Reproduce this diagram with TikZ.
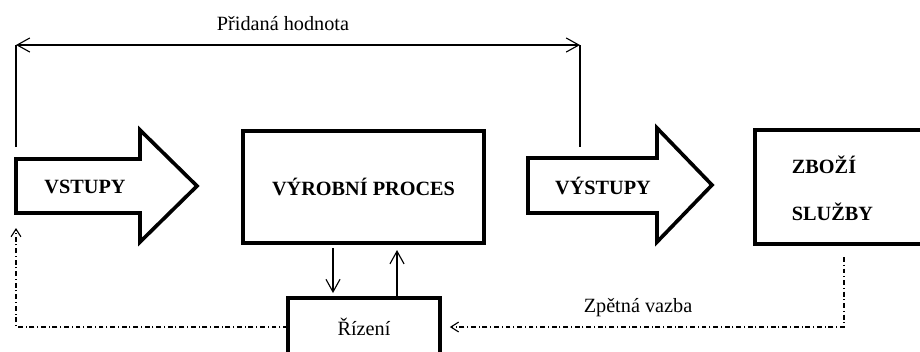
\documentclass[tikz,border=0pt]{standalone}
\usepackage{fontspec}
\setmainfont{Liberation Serif}
\usetikzlibrary{arrows.meta,positioning}

\begin{document}
\begin{tikzpicture}[x=0.025cm, y=-0.025cm,
	every node/.style={font=\fontsize{14.4}{17}\selectfont},
	box/.style={draw, line width=2.8pt, inner sep=0pt, outer sep=0pt},
	bigarrow/.style={draw, line width=2.6pt, line join=miter},
	caption/.style={font=\fontsize{14.4}{17}\selectfont\bfseries},
	link/.style={line width=0.8pt, -{Straight Barb[length=9pt,width=10pt]}},
	back/.style={line width=0.8pt, dash pattern=on 3.5pt off 2pt on 0.7pt off 2pt,
		-{Straight Barb[length=5.5pt,width=7pt]}}]

	\useasboundingbox (0,0) rectangle (920,351);

	% Boxes
	\node[box, minimum width=6.025cm, minimum height=2.8cm, font=\fontsize{14.4}{17}\selectfont\bfseries] (vyroba) at (363.5,187) {VÝROBNÍ PROCES};
	\node[box, minimum width=4.625cm, minimum height=2.85cm] (zbozi) at (847.5,187) {};
	\node[caption, anchor=west] (zboziText) at (787,165) {ZBOŽÍ};
	\node[caption, anchor=west] (sluzbyText) at (787,212) {SLUŽBY};
	\node[box, minimum width=3.8cm, minimum height=1.45cm] (rizeni) at (364,327) {Řízení};

	% Block arrows
	\draw[bigarrow] (16,159) -- (140,159) -- (140,130) -- (197,186) -- (140,242) -- (140,213) -- (16,213) -- cycle;
	\node[caption] (vstupy) at (85,187) {VSTUPY};
	\draw[bigarrow] (528,158) -- (657,158) -- (657,128) -- (712,185) -- (657,242) -- (657,213) -- (528,213) -- cycle;
	\node[caption] (vystupy) at (603,186) {VÝSTUPY};

	% Free ends
	\coordinate (vstupyTop) at (16,147);
	\coordinate (vstupyBottom) at (16,228);
	\coordinate (vystupyTop) at (580,147);
	\coordinate (hodnotaL) at (16,45);
	\coordinate (hodnotaR) at (580,45);
	\coordinate (zboziOut) at (844,257);
	\coordinate (dolu) at (333,0);
	\coordinate (nahoru) at (397,0);

	% Added value
	\draw[line width=0.8pt] (vstupyTop) -- (hodnotaL);
	\draw[link, {Straight Barb[length=9pt,width=10pt]}-{Straight Barb[length=9pt,width=10pt]}] (hodnotaL) -- (hodnotaR);
	\draw[line width=0.8pt] (hodnotaR) -- (vystupyTop);
	\node (hodnota) at (283,24) {Přidaná hodnota};

	% Control
	\draw[link, shorten <=3.5pt, shorten >=3.5pt] (vyroba.south -| dolu) -- (rizeni.north -| dolu);
	\draw[link, shorten >=5pt] (rizeni.north -| nahoru) -- (vyroba.south -| nahoru);

	% Feedback
	\draw[back, shorten >=7pt] (zboziOut) |- (rizeni.east);
	\node (vazba) at (638,308) {Zpětná vazba};
	\draw[back] (rizeni.west) -| (vstupyBottom);
\end{tikzpicture}
\end{document}
